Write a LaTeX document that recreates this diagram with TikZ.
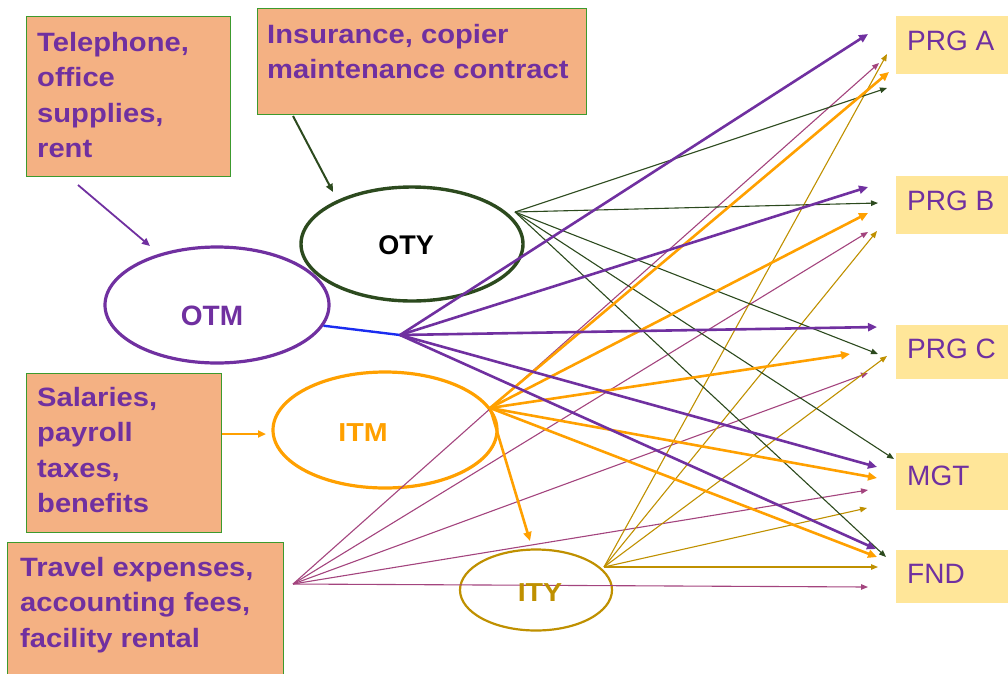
\documentclass[tikz,border=0pt]{standalone}
\usepackage{fontspec}
\setmainfont{Liberation Sans}
\newfontfamily\costfont{Liberation Sans}[FakeStretch=1.1]
\usetikzlibrary{arrows.meta,shapes.geometric}

\definecolor{cpurple}{HTML}{7030A0}
\definecolor{cgreen}{HTML}{2C4A1E}
\definecolor{cboxline}{HTML}{3C9A2E}
\definecolor{cpeach}{HTML}{F4B183}
\definecolor{corange}{HTML}{FFA000}
\definecolor{cgold}{HTML}{BF9000}
\definecolor{cplum}{HTML}{A3447E}
\definecolor{cblue}{HTML}{1A2CF0}
\definecolor{cyellow}{HTML}{FFE699}

\tikzset{
  costbox/.style={draw=cboxline, line width=1.3pt, fill=cpeach, inner sep=0, anchor=north west},
  costtext/.style={anchor=north west, inner sep=0, align=left, text=cpurple,
    font=\costfont\bfseries\fontsize{26.5}{35.5}\selectfont},
  unitbox/.style={fill=cyellow, inner sep=0, anchor=north west, minimum width=114},
  unittext/.style={anchor=west, inner sep=0, text=cpurple, font=\fontsize{28}{30}\selectfont},
  pool/.style={ellipse, inner sep=0},
  pooltext/.style={inner sep=0, font=\bfseries\fontsize{27}{30}\selectfont},
  bigarrow/.style={line width=2.6pt, -{Triangle[length=9pt,width=8pt]}},
  smallarrow/.style={line width=1.1pt, -{Triangle[length=7pt,width=5.5pt]}},
}

\begin{document}
\begin{tikzpicture}[x=1pt,y=-1pt]
\useasboundingbox (0,0) rectangle (1008,673);

% cost boxes
\node[costbox, minimum width=204, minimum height=160] (tel) at (26,16) {};
\node[costbox, minimum width=329, minimum height=106] (ins) at (257,8) {};
\node[costbox, minimum width=195, minimum height=159] (sal) at (26,373) {};
\node[costbox, minimum width=276, minimum height=140] (trv) at (7,542) {};

% cost objects on the right
\node[unitbox, minimum height=58] (prga) at (896,16) {};
\node[unitbox, minimum height=58] (prgb) at (896,176) {};
\node[unitbox, minimum height=54] (prgc) at (896,325) {};
\node[unitbox, minimum height=57] (mgt)  at (896,453) {};
\node[unitbox, minimum height=53] (fnd)  at (896,550) {};

% activity pools
\node[pool, draw=cpurple, line width=3.2pt, minimum width=224, minimum height=116] (otm) at (217,305) {};
\node[pool, draw=cgreen, line width=3.4pt, minimum width=222, minimum height=114] (oty) at (412,244) {};
\node[pool, draw=corange, line width=3.2pt, minimum width=224, minimum height=116] (itm) at (385,430) {};
\node[pool, draw=cgold, line width=2.2pt, minimum width=152, minimum height=81] (ity) at (536,590) {};

% fan-out points
\coordinate (fanA) at (400,335);
\coordinate (fanB) at (515,212);
\coordinate (fanC) at (490,408);
\coordinate (fanD) at (293,584);
\coordinate (fanE) at (604,567);

% arrow ends
\coordinate (pA) at (868,34);  \coordinate (pB) at (868,187); \coordinate (pC) at (877,327);
\coordinate (pM) at (877,467); \coordinate (pF) at (876,549);
\coordinate (gA) at (887,88);  \coordinate (gB) at (878,203); \coordinate (gC) at (878,354);
\coordinate (gM) at (894,459); \coordinate (gF) at (886,557);
\coordinate (oA) at (889,72);  \coordinate (oB) at (868,213); \coordinate (oC) at (850,354);
\coordinate (oM) at (877,478); \coordinate (oF) at (877,557);
\coordinate (mA) at (879,63);  \coordinate (mB) at (868,232); \coordinate (mC) at (868,373);
\coordinate (mM) at (868,490); \coordinate (mF) at (868,587);
\coordinate (yA) at (887,54);  \coordinate (yB) at (877,231); \coordinate (yC) at (887,356);
\coordinate (yM) at (867,508); \coordinate (yF) at (878,567);

% inputs into the pools
\coordinate (telout) at (78,185);  \coordinate (otmin) at (150,246);
\coordinate (insout) at (293,116); \coordinate (otyin) at (333,192);
\coordinate (salout) at (222,434); \coordinate (itmin) at (266,434);
\coordinate (ityin) at (530,541);

\draw[cpurple, line width=1.8pt, -{Triangle[length=8pt,width=7pt]}] (telout) -- (otmin);
\draw[cgreen, line width=2pt, -{Triangle[length=8pt,width=7pt]}] (insout) -- (otyin);
\draw[corange, line width=2pt, -{Triangle[length=8pt,width=7pt]}] (salout) -- (itmin);

% pool link
\draw[cblue, line width=2.4pt] (otm.-11) -- (fanA);

% allocations
\foreach \t in {mA,mB,mC,mM,mF} \draw[smallarrow, cplum] (fanD) -- (\t);
\foreach \t in {yA,yB,yC,yM,yF} \draw[smallarrow, cgold] (fanE) -- (\t);
\foreach \t in {gA,gB,gC,gM,gF} \draw[smallarrow, cgreen] (fanB) -- (\t);
\foreach \t in {oA,oB,oC,oM,oF} \draw[bigarrow, corange] (fanC) -- (\t);
\draw[bigarrow, corange] (fanC) -- (ityin);
\foreach \t in {pA,pB,pC,pM,pF} \draw[bigarrow, cpurple] (fanA) -- (\t);

% texts
\node[costtext] (teltxt) at (37,32) {Telephone,\\office\\supplies,\\rent};
\node[costtext] (instxt) at (267,24) {Insurance, copier\\maintenance contract};
\node[costtext] (saltxt) at (37,387) {Salaries,\\payroll\\taxes,\\benefits};
\node[costtext] (trvtxt) at (20,557) {Travel expenses,\\accounting fees,\\facility rental};

\node[pooltext, text=cpurple, font=\bfseries\fontsize{28}{30}\selectfont] (otmtxt) at (212,316) {OTM};
\node[pooltext, text=black] (otytxt) at (406,245) {OTY};
\node[pooltext, text=corange, font=\costfont\bfseries\fontsize{26}{30}\selectfont] (itmtxt) at (363,433) {ITM};
\node[pooltext, text=cgold, font=\costfont\bfseries\fontsize{26}{30}\selectfont] (itytxt) at (540,593) {ITY};

\node[unittext] (prgatxt) at (907,40.5) {PRG A};
\node[unittext] (prgbtxt) at (907,201) {PRG B};
\node[unittext] (prgctxt) at (907,349) {PRG C};
\node[unittext] (mgttxt)  at (907,476) {MGT};
\node[unittext] (fndtxt)  at (907,574) {FND};
\end{tikzpicture}
\end{document}
